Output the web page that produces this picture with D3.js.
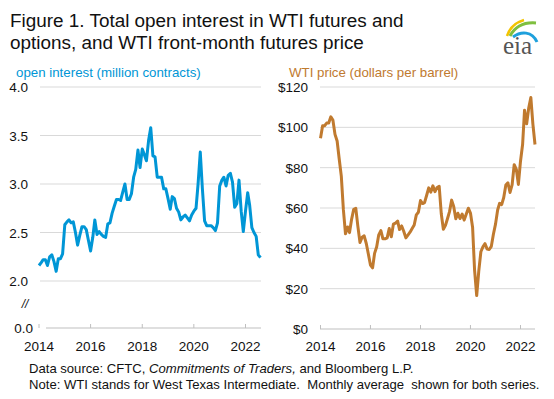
<!DOCTYPE html>
<html>
<head>
<meta charset="utf-8">
<script src="https://cdn.jsdelivr.net/npm/d3@7"></script>
<style>
  body { margin: 0; background: #fff; }
  svg { font-family: "Liberation Sans", Arial, sans-serif; }
</style>
</head>
<body>
<script>
// monthly values, Jan 2014 - Aug 2022
const openInterest = [
  2.16, 2.19, 2.22, 2.22, 2.16, 2.25, 2.27, 2.20, 2.10, 2.23, 2.23, 2.28,
  2.58, 2.61, 2.63, 2.60, 2.61, 2.50, 2.37, 2.47, 2.56, 2.56, 2.53, 2.42,
  2.31, 2.45, 2.63, 2.48, 2.51, 2.48, 2.46, 2.45, 2.59, 2.60, 2.70, 2.77,
  2.84, 2.84, 2.83, 2.92, 3.00, 2.84, 2.84, 2.90, 3.07, 3.15, 3.35, 3.17,
  3.36, 3.30, 3.24, 3.45, 3.58, 3.29, 3.28, 3.07, 3.07, 3.07, 2.95, 2.95,
  2.85, 2.74, 2.87, 2.85, 2.75, 2.71, 2.63, 2.66, 2.68, 2.65, 2.62, 2.68,
  2.72, 2.75, 3.00, 3.33, 2.95, 2.62, 2.57, 2.57, 2.57, 2.55, 2.52, 2.60,
  2.98, 3.04, 3.07, 2.98, 3.09, 3.11, 3.02, 2.76, 2.80, 3.04, 2.72, 2.51,
  2.72, 2.91, 2.78, 2.55, 2.50, 2.46, 2.27, 2.24
];
const wtiPrice = [
  94.6, 100.8, 100.8, 102.1, 102.2, 105.2, 103.6, 96.5, 93.2, 84.4, 75.8, 59.3,
  47.2, 50.6, 47.8, 54.5, 59.3, 59.8, 50.9, 42.9, 45.5, 46.2, 42.4, 37.2,
  31.7, 30.3, 37.5, 40.8, 46.7, 48.8, 44.7, 44.7, 45.2, 49.8, 45.7, 52.0,
  52.5, 53.5, 49.3, 51.1, 48.5, 45.2, 46.6, 48.0, 49.8, 51.6, 56.6, 57.9,
  63.7, 62.2, 62.7, 66.3, 70.0, 67.9, 71.0, 68.1, 70.2, 70.8, 57.0, 49.5,
  51.4, 54.9, 58.2, 63.9, 60.8, 54.7, 57.4, 54.8, 57.0, 54.0, 57.0, 59.9,
  57.5, 50.5, 29.2, 16.6, 28.6, 38.3, 40.7, 42.3, 39.6, 39.4, 41.0, 47.0,
  52.0, 59.0, 62.3, 61.7, 65.2, 71.4, 72.5, 67.7, 71.6, 81.5, 79.2, 71.7,
  83.2, 91.6, 108.5, 101.8, 109.6, 114.8, 101.6, 91.5
];
const yearTicks = [2014, 2016, 2018, 2020, 2022];
const oiTicks = [0, 2, 2.5, 3, 3.5, 4];
const priceTicks = [0, 20, 40, 60, 80, 100, 120];

const months = d3.timeMonth.range(new Date(2014, 0, 1), new Date(2022, 8, 1));
const tickDates = yearTicks.map((y) => new Date(y, 0, 1));

const blue = "#0096d6";
const orange = "#c07a2f";
const grid = "#d9d9d9";

const svg = d3.select("body").append("svg")
  .attr("width", 554)
  .attr("height", 399);

// Title
svg.append("text")
  .attr("x", 10).attr("y", 27)
  .attr("font-size", 18.9)
  .attr("fill", "#111")
  .text("Figure 1. Total open interest in WTI futures and");
svg.append("text")
  .attr("x", 10).attr("y", 49)
  .attr("font-size", 18.9)
  .attr("fill", "#111")
  .text("options, and WTI front-month futures price");

// eia logo
const logo = svg.append("g");
logo.append("path")
  .attr("d", "M507,36 C510,27 517,22 524,20")
  .attr("fill", "none").attr("stroke", "#f3c300").attr("stroke-width", 2.5);
logo.append("path")
  .attr("d", "M510,36 C515,27 524,22 536,23")
  .attr("fill", "none").attr("stroke", "#7fbf3f").attr("stroke-width", 3);
logo.append("path")
  .attr("d", "M513,37 C521,31 532,31 537,42")
  .attr("fill", "none").attr("stroke", "#1ea0dc").attr("stroke-width", 3);
logo.append("text")
  .attr("x", 503).attr("y", 54)
  .attr("font-family", "'Liberation Serif', 'DejaVu Serif', serif")
  .attr("font-size", 25)
  .attr("fill", "#555")
  .text("eia");

// ---------- left panel: open interest ----------
const xL = d3.scaleTime().domain([tickDates[0], tickDates[4]]).range([39, 245.5]);
const yL = d3.scaleLinear().domain([0, 2, 4]).range([328, 281, 87]);

svg.append("text")
  .attr("x", 16).attr("y", 77)
  .attr("font-size", 13.3)
  .attr("fill", blue)
  .text("open interest (million contracts)");

svg.append("g")
  .selectAll("line")
  .data(oiTicks.filter((t) => t >= 2))
  .enter()
  .append("line")
  .attr("x1", 40).attr("x2", 261)
  .attr("y1", (d) => yL(d)).attr("y2", (d) => yL(d))
  .attr("stroke", grid);

svg.append("line")
  .attr("x1", 46).attr("x2", 261)
  .attr("y1", yL(0)).attr("y2", yL(0))
  .attr("stroke", "#bfbfbf");

svg.append("g")
  .selectAll("line")
  .data(tickDates)
  .enter()
  .append("line")
  .attr("x1", (d) => xL(d)).attr("x2", (d) => xL(d))
  .attr("y1", yL(0) - 4).attr("y2", yL(0))
  .attr("stroke", "#bfbfbf");

svg.append("g")
  .selectAll("text")
  .data(oiTicks)
  .enter()
  .append("text")
  .attr("x", (d) => (d === 0 ? 33 : 28))
  .attr("y", (d) => yL(d) + 5)
  .attr("text-anchor", "end")
  .attr("font-size", 13.5)
  .attr("fill", "#111")
  .text((d) => d3.format(".1f")(d));

svg.append("text")
  .attr("x", 25).attr("y", 308)
  .attr("text-anchor", "middle")
  .attr("font-size", 12)
  .attr("font-style", "italic")
  .attr("fill", "#111")
  .text("//");

svg.append("g")
  .selectAll("text")
  .data(tickDates)
  .enter()
  .append("text")
  .attr("x", (d) => xL(d))
  .attr("y", 351)
  .attr("text-anchor", "middle")
  .attr("font-size", 13.5)
  .attr("fill", "#111")
  .text((d) => d.getFullYear());

svg.append("path")
  .datum(openInterest)
  .attr("fill", "none")
  .attr("stroke", blue)
  .attr("stroke-width", 3)
  .attr("stroke-linejoin", "round")
  .attr("d", d3.line().x((d, i) => xL(months[i])).y((d) => yL(d)));

// ---------- right panel: WTI price ----------
const xR = d3.scaleTime().domain([tickDates[0], tickDates[4]]).range([320.5, 520.5]);
const yR = d3.scaleLinear().domain([0, 120]).range([329, 87]);

svg.append("text")
  .attr("x", 289).attr("y", 77)
  .attr("font-size", 13.3)
  .attr("fill", orange)
  .text("WTI price (dollars per barrel)");

svg.append("g")
  .selectAll("line")
  .data(priceTicks.filter((t) => t > 0))
  .enter()
  .append("line")
  .attr("x1", 320).attr("x2", 535)
  .attr("y1", (d) => yR(d)).attr("y2", (d) => yR(d))
  .attr("stroke", grid);

svg.append("line")
  .attr("x1", 320).attr("x2", 535)
  .attr("y1", yR(0)).attr("y2", yR(0))
  .attr("stroke", "#bfbfbf");

svg.append("g")
  .selectAll("line")
  .data(tickDates)
  .enter()
  .append("line")
  .attr("x1", (d) => xR(d)).attr("x2", (d) => xR(d))
  .attr("y1", yR(0) - 4).attr("y2", yR(0))
  .attr("stroke", "#bfbfbf");

svg.append("g")
  .selectAll("text")
  .data(priceTicks)
  .enter()
  .append("text")
  .attr("x", 308)
  .attr("y", (d) => yR(d) + 5)
  .attr("text-anchor", "end")
  .attr("font-size", 13.5)
  .attr("fill", "#111")
  .text((d) => "$" + d);

svg.append("g")
  .selectAll("text")
  .data(tickDates)
  .enter()
  .append("text")
  .attr("x", (d) => xR(d))
  .attr("y", 351)
  .attr("text-anchor", "middle")
  .attr("font-size", 13.5)
  .attr("fill", "#111")
  .text((d) => d.getFullYear());

svg.append("path")
  .datum(wtiPrice)
  .attr("fill", "none")
  .attr("stroke", orange)
  .attr("stroke-width", 3)
  .attr("stroke-linejoin", "round")
  .attr("d", d3.line().x((d, i) => xR(months[i])).y((d) => yR(d)));

// Footnotes
const src = svg.append("text")
  .attr("x", 29).attr("y", 373)
  .attr("font-size", 13.1)
  .attr("fill", "#111");
src.append("tspan").text("Data source: CFTC, ");
src.append("tspan").attr("font-style", "italic").text("Commitments of Traders,");
src.append("tspan").text(" and Bloomberg L.P.");

svg.append("text")
  .attr("x", 29).attr("y", 389)
  .attr("font-size", 13.1)
  .attr("fill", "#111")
  .style("white-space", "pre")
  .text("Note: WTI stands for West Texas Intermediate.  Monthly average  shown for both series.");
</script>
</body>
</html>
